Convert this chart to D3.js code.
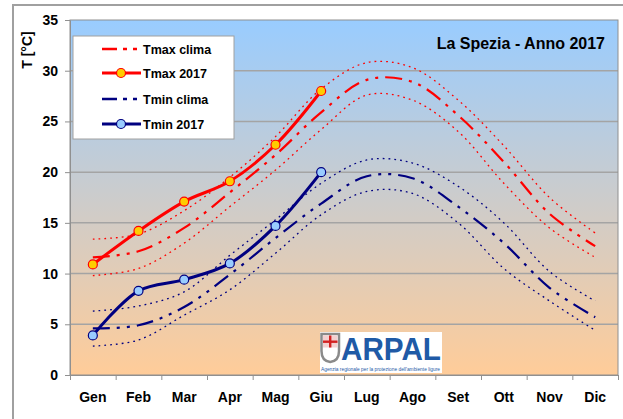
<!DOCTYPE html>
<html>
<head>
<meta charset="utf-8">
<script src="https://cdn.jsdelivr.net/npm/d3@7"></script>
<style>
  body { margin: 0; background: #fff; }
  svg { display: block; font-family: "Liberation Sans", Arial, sans-serif; }
</style>
</head>
<body>
<div id="chart"></div>
<script>
const months = ["Gen", "Feb", "Mar", "Apr", "Mag", "Giu", "Lug", "Ago", "Set", "Ott", "Nov", "Dic"];

// climatology (mean) and its upper / lower band
const tmaxClima = [11.6, 12.2, 14.5, 18.0, 21.7, 25.9, 29.1, 28.9, 25.6, 21.0, 15.9, 12.7];
const tmaxClimaHi = [13.4, 13.9, 16.2, 19.5, 23.5, 28.2, 30.8, 30.3, 27.1, 22.6, 17.5, 14.0];
const tmaxClimaLo = [9.8, 10.5, 13.0, 16.6, 20.2, 24.2, 27.6, 27.1, 24.0, 18.9, 14.5, 11.6];

const tminClima = [4.6, 4.9, 6.7, 9.9, 13.5, 16.9, 19.6, 19.4, 16.6, 13.0, 8.6, 5.7];
const tminClimaHi = [6.3, 6.8, 8.2, 11.8, 15.3, 18.9, 21.2, 20.9, 18.6, 15.0, 10.2, 7.3];
const tminClimaLo = [2.85, 3.45, 5.9, 8.4, 12.0, 15.8, 18.1, 17.9, 15.0, 10.5, 7.3, 4.4];

// 2017 observed (Jan - Jun)
const tmax2017 = [10.9, 14.2, 17.1, 19.1, 22.7, 28.0];
const tmin2017 = [3.9, 8.3, 9.4, 11.0, 14.7, 20.0];

const yTicks = [0, 5, 10, 15, 20, 25, 30, 35];

const width = 623, height = 419;
const plot = { left: 70, right: 618, top: 20, bottom: 375 };
const red = "#ff0000", navy = "#000080";

const svg = d3.select("#chart").append("svg")
  .attr("width", width)
  .attr("height", height);

// outer chart frame
svg.append("rect")
  .attr("x", 13).attr("y", 5)
  .attr("width", 640).attr("height", 440)
  .attr("fill", "#fff")
  .attr("stroke", "#a0a0a0")
  .attr("stroke-width", 2);

const defs = svg.append("defs");
const grad = defs.append("linearGradient")
  .attr("id", "bg")
  .attr("x1", 0).attr("y1", 0).attr("x2", 0).attr("y2", 1);
grad.append("stop").attr("offset", "0%").attr("stop-color", "#99ccff");
grad.append("stop").attr("offset", "100%").attr("stop-color", "#ffcc99");

const x = d3.scaleBand().domain(months).range([plot.left, plot.right]).padding(0);
const xc = (i) => x(months[i]) + x.bandwidth() / 2;
const y = d3.scaleLinear().domain([0, 35]).range([plot.bottom, plot.top]);

// plot background
svg.append("rect")
  .attr("x", plot.left).attr("y", plot.top)
  .attr("width", plot.right - plot.left).attr("height", plot.bottom - plot.top)
  .attr("fill", "url(#bg)");

// gridlines
svg.append("g")
  .selectAll("line")
  .data(yTicks.filter((d) => d > 0 && d < 35))
  .join("line")
  .attr("x1", plot.left).attr("x2", plot.right)
  .attr("y1", (d) => y(d)).attr("y2", (d) => y(d))
  .attr("stroke", "#a4a4a4")
  .attr("stroke-width", 1.5);

svg.append("rect")
  .attr("x", plot.left).attr("y", plot.top)
  .attr("width", plot.right - plot.left).attr("height", plot.bottom - plot.top)
  .attr("fill", "none")
  .attr("stroke", "#909090")
  .attr("stroke-width", 1);

// y axis
const yAxis = svg.append("g")
  .attr("transform", `translate(${plot.left},0)`)
  .call(d3.axisLeft(y).tickValues(yTicks).tickSize(5).tickPadding(7).tickSizeOuter(0));
yAxis.select(".domain").attr("stroke", "#909090");
yAxis.selectAll(".tick line").attr("stroke", "#909090");
yAxis.selectAll("text")
  .attr("font-size", 14).attr("font-weight", "bold").attr("fill", "#000")
  .attr("font-family", "Liberation Sans, Arial, sans-serif");

// x axis: tick marks at category boundaries, labels at centers
const xb = d3.scaleLinear().domain([0, 12]).range([plot.left, plot.right]);
const xTickAxis = svg.append("g")
  .attr("transform", `translate(0,${plot.bottom})`)
  .call(d3.axisBottom(xb).tickValues(d3.range(13)).tickFormat("").tickSize(5).tickSizeOuter(0));
xTickAxis.select(".domain").attr("stroke", "#909090");
xTickAxis.selectAll(".tick line").attr("stroke", "#909090");

const xAxis = svg.append("g")
  .attr("transform", `translate(0,${plot.bottom})`)
  .call(d3.axisBottom(x).tickSize(0).tickPadding(17));
xAxis.select(".domain").remove();
xAxis.selectAll("text")
  .attr("font-size", 14).attr("font-weight", "bold").attr("fill", "#000")
  .attr("font-family", "Liberation Sans, Arial, sans-serif");

// y axis title
svg.append("text")
  .attr("transform", "translate(32,50) rotate(-90)")
  .attr("text-anchor", "middle")
  .attr("font-size", 14).attr("font-weight", "bold")
  .text("T [°C]");

// chart title
svg.append("text")
  .attr("x", 605).attr("y", 49)
  .attr("text-anchor", "end")
  .attr("font-size", 16).attr("font-weight", "bold")
  .text("La Spezia - Anno 2017");

// ARPAL logo
const logo = svg.append("g").attr("transform", "translate(320,332)");
logo.append("rect").attr("width", 122).attr("height", 41).attr("fill", "#fff");
logo.append("path")
  .attr("d", "M1.5,2 H19 V19 Q19,29 10.2,30 Q1.5,29 1.5,19 Z")
  .attr("fill", "#fff").attr("stroke", "#8a8a8a").attr("stroke-width", 2.5);
logo.append("rect").attr("x", 3).attr("y", 3.5).attr("width", 14.5).attr("height", 12).attr("fill", "#f4d0d0");
logo.append("rect").attr("x", 9).attr("y", 3.5).attr("width", 2.4).attr("height", 12).attr("fill", "#d32020");
logo.append("rect").attr("x", 3).attr("y", 8.5).attr("width", 14.5).attr("height", 2.4).attr("fill", "#d32020");
logo.append("text")
  .attr("x", 21).attr("y", 28)
  .attr("font-size", 31).attr("font-weight", "bold")
  .attr("fill", "#1f5aa6")
  .attr("textLength", 100).attr("lengthAdjust", "spacingAndGlyphs")
  .text("ARPAL");
logo.append("text")
  .attr("x", 1).attr("y", 39)
  .attr("font-size", 4.5)
  .attr("fill", "#1f5aa6")
  .attr("textLength", 119).attr("lengthAdjust", "spacingAndGlyphs")
  .text("Agenzia regionale per la protezione dell'ambiente ligure");

const line = d3.line()
  .x((d, i) => xc(i))
  .y((d) => y(d))
  .curve(d3.curveCatmullRom.alpha(0.5));

// long dash - dot - dot, and round dots
const dashDotDot = "17,7,3,7,3,7";
const dotted = "1.8,4";

function drawLine(values, color, w, dash) {
  svg.append("path")
    .datum(values)
    .attr("d", line)
    .attr("fill", "none")
    .attr("stroke", color)
    .attr("stroke-width", w)
    .attr("stroke-dasharray", dash);
}

drawLine(tmaxClimaHi, red, 1.3, dotted);
drawLine(tmaxClimaLo, red, 1.3, dotted);
drawLine(tmaxClima, red, 2.2, dashDotDot);
drawLine(tminClimaHi, navy, 1.3, dotted);
drawLine(tminClimaLo, navy, 1.3, dotted);
drawLine(tminClima, navy, 2.2, dashDotDot);

function drawObserved(values, color, fill) {
  drawLine(values, color, 3, null);
  svg.append("g")
    .selectAll("circle")
    .data(values)
    .join("circle")
    .attr("cx", (d, i) => xc(i))
    .attr("cy", (d) => y(d))
    .attr("r", 4.5)
    .attr("fill", fill)
    .attr("stroke", color)
    .attr("stroke-width", 1.2);
}

drawObserved(tmax2017, red, "#ffcc00");
drawObserved(tmin2017, navy, "#99ccff");

// legend
const legend = svg.append("g");
legend.append("rect")
  .attr("x", 73).attr("y", 36)
  .attr("width", 161).attr("height", 103)
  .attr("fill", "#fff")
  .attr("stroke", "#a0a0a0")
  .attr("stroke-width", 1);

const legendItems = [
  { label: "Tmax clima", color: red, dash: "15,6,4,6,4,20", marker: null },
  { label: "Tmax 2017", color: red, dash: null, marker: "#ffcc00" },
  { label: "Tmin clima", color: navy, dash: "15,6,4,6,4,20", marker: null },
  { label: "Tmin 2017", color: navy, dash: null, marker: "#99ccff" }
];
const legendY = [49, 73, 99, 124];

const items = legend.selectAll("g.item")
  .data(legendItems)
  .join("g")
  .attr("class", "item")
  .attr("transform", (d, i) => `translate(0,${legendY[i]})`);

items.append("line")
  .attr("x1", 102).attr("x2", 141)
  .attr("stroke", (d) => d.color)
  .attr("stroke-width", (d) => (d.dash ? 2.5 : 3))
  .attr("stroke-dasharray", (d) => d.dash);

items.filter((d) => d.marker)
  .append("circle")
  .attr("cx", 121).attr("r", 4.5)
  .attr("fill", (d) => d.marker)
  .attr("stroke", (d) => d.color)
  .attr("stroke-width", 1.2);

items.append("text")
  .attr("x", 143).attr("y", 4.5)
  .attr("font-size", 12.5).attr("font-weight", "bold")
  .text((d) => d.label);
</script>
</body>
</html>
